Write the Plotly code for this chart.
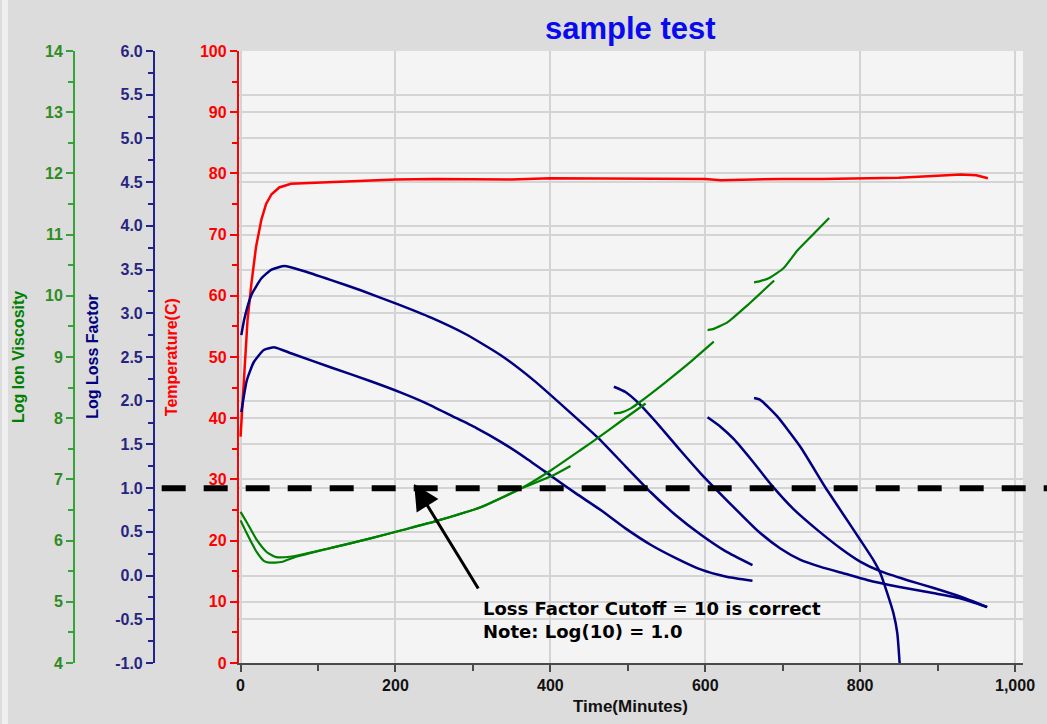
import plotly.graph_objects as go

# ---------------- data ----------------
# Temperature (C) vs time (minutes)
temp_t = [0, 3, 5, 9, 14, 20, 27, 33, 40, 50, 65, 100, 150, 200, 250, 300, 350, 400, 450, 500,
          550, 600, 620, 650, 700, 750, 800, 850, 900, 930, 950, 965]
temp_v = [37, 43, 47, 56, 62, 68, 72.5, 75, 76.6, 77.7, 78.3, 78.5, 78.8, 79.0, 79.1, 79.1, 79.0,
          79.2, 79.2, 79.1, 79.2, 79.1, 78.9, 79.0, 79.1, 79.1, 79.2, 79.3, 79.6, 79.8, 79.7, 79.2]

# Log Loss Factor runs
lf_a_t = [1, 5, 14, 27, 40, 57, 79, 117, 156, 201, 246, 291, 336, 379, 420, 461, 497, 530, 562,
          594, 626, 661]
lf_a_v = [2.75, 2.94, 3.21, 3.40, 3.50, 3.54, 3.49, 3.38, 3.26, 3.11, 2.95, 2.76, 2.52, 2.23,
          1.91, 1.58, 1.25, 0.95, 0.69, 0.47, 0.28, 0.12]
lf_b_t = [1, 8, 17, 30, 44, 66, 117, 169, 208, 240, 272, 304, 336, 369, 401, 433, 465, 497,
          530, 562, 594, 626, 661]
lf_b_v = [1.87, 2.23, 2.44, 2.58, 2.61, 2.54, 2.38, 2.22, 2.09, 1.97, 1.83, 1.69, 1.53, 1.34,
          1.14, 0.94, 0.75, 0.54, 0.35, 0.20, 0.07, -0.01, -0.06]
lf_c_t = [482, 497, 513, 543, 568, 594, 637, 668, 697, 723, 749, 781, 809, 851, 894, 929, 964]
lf_c_v = [2.16, 2.10, 1.98, 1.69, 1.43, 1.17, 0.78, 0.51, 0.31, 0.18, 0.10, 0.02, -0.05,
          -0.13, -0.20, -0.26, -0.36]
lf_d_t = [603, 620, 637, 659, 687, 714, 745, 775, 800, 826, 860, 894, 929, 964]
lf_d_v = [1.81, 1.70, 1.56, 1.33, 1.02, 0.76, 0.52, 0.31, 0.16, 0.05, -0.05, -0.14, -0.24, -0.36]
lf_e_t = [663, 671, 693, 723, 755, 779, 800, 817, 826, 835, 843, 848, 851]
lf_e_v = [2.03, 2.01, 1.82, 1.47, 1.01, 0.69, 0.41, 0.18, 0.03, -0.20, -0.43, -0.66, -1.0]

# Log Ion Viscosity runs
iv_1_t = [0, 8, 21, 34, 46, 66, 117, 169, 208, 250, 311, 362, 401, 439, 465, 491, 523]
iv_1_v = [6.47, 6.30, 6.01, 5.81, 5.73, 5.74, 5.88, 6.04, 6.17, 6.31, 6.55, 6.85, 7.15, 7.48,
          7.71, 7.95, 8.24]
iv_2_t = [0, 8, 21, 30, 37, 53, 70, 117, 169, 208, 250, 311, 362, 401, 426]
iv_2_v = [6.33, 6.12, 5.81, 5.67, 5.64, 5.65, 5.73, 5.88, 6.04, 6.17, 6.31, 6.55, 6.85, 7.05, 7.22]
iv_3_t = [482, 491, 504, 513, 547, 581, 611]
iv_3_v = [8.08, 8.09, 8.16, 8.24, 8.57, 8.92, 9.25]
iv_4_t = [603, 611, 629, 654, 689]
iv_4_v = [9.44, 9.46, 9.57, 9.84, 10.25]
iv_5_t = [663, 671, 684, 701, 719, 736, 760]
iv_5_v = [10.22, 10.24, 10.30, 10.45, 10.74, 10.96, 11.27]

cutoff_lf = 1.0

# tick labels
x_tickvals = [0, 200, 400, 600, 800, 1000]
lf_tickvals = [-1.0, -0.5, 0.0, 0.5, 1.0, 1.5, 2.0, 2.5, 3.0, 3.5, 4.0, 4.5, 5.0, 5.5, 6.0]
lf_ticktext = ["-1.0", "-0.5", "0.0", "0.5", "1.0", "1.5", "2.0", "2.5", "3.0", "3.5",
               "4.0", "4.5", "5.0", "5.5", "6.0"]

# ---------------- layout geometry ----------------
W, H = 1047, 724
ML, MR, MT, MB = 0, 24, 51, 61
PW = W - ML - MR
PH = H - MT - MB
PLOT_LEFT = 237


def px_x(px):
    return (px - ML) / PW


def px_y(py):
    return (H - MB - py) / PH


GREEN = "#008000"
GREEN_AX = "#36a336"
GREEN_TXT = "#2e8b1e"
NAVY = "#000080"
NAVY_AX = "#22228c"
NAVY_TXT = "#262680"
RED = "#ff0000"
GRID = "#d4d4d4"
FONT = "Liberation Sans, Arial, sans-serif"
NOTE_FONT = "DejaVu Sans, Liberation Sans, sans-serif"

fig = go.Figure()

fig.add_trace(go.Scatter(x=temp_t, y=temp_v, mode="lines", yaxis="y",
                         line=dict(color=RED, width=2.5), showlegend=False))

for tt, vv in [(lf_a_t, lf_a_v), (lf_b_t, lf_b_v), (lf_c_t, lf_c_v), (lf_d_t, lf_d_v), (lf_e_t, lf_e_v)]:
    fig.add_trace(go.Scatter(x=tt, y=vv, mode="lines", yaxis="y2",
                             line=dict(color=NAVY, width=2.5, shape="spline", smoothing=0.5),
                             showlegend=False))

for tt, vv in [(iv_1_t, iv_1_v), (iv_2_t, iv_2_v), (iv_3_t, iv_3_v), (iv_4_t, iv_4_v), (iv_5_t, iv_5_v)]:
    fig.add_trace(go.Scatter(x=tt, y=vv, mode="lines", yaxis="y3",
                             line=dict(color=GREEN, width=2.2, shape="spline", smoothing=0.5),
                             showlegend=False))

fig.update_layout(
    width=W, height=H,
    margin=dict(l=ML, r=MR, t=MT, b=MB),
    paper_bgcolor="#dcdcdc",
    plot_bgcolor="#f4f4f4",
    font=dict(family=FONT),
    showlegend=False,
    xaxis=dict(
        domain=[px_x(PLOT_LEFT), 1],
        range=[-2.6, 1010.3],
        tickvals=x_tickvals,
        tickformat=",",
        showgrid=True, gridcolor=GRID, gridwidth=1.5,
        zeroline=False,
        showline=True, linecolor="#4a4a4a", linewidth=2,
        ticks="outside", ticklen=7, tickwidth=1.5, tickcolor="#4a4a4a",
        minor=dict(ticks="outside", dtick=100, tick0=0, ticklen=6, tickwidth=1.5, tickcolor="#4a4a4a"),
        tickfont=dict(family=FONT, size=16, color="#111111", weight="bold"),
    ),
    yaxis=dict(
        range=[0, 100], dtick=10,
        showgrid=True, gridcolor=GRID, gridwidth=1.5, zeroline=False,
        showline=True, linecolor=RED, linewidth=1.5,
        ticks="outside", ticklen=7, tickwidth=1.5, tickcolor=RED,
        minor=dict(ticks="outside", dtick=5, ticklen=5, tickwidth=1.5, tickcolor=RED),
        tickfont=dict(family=FONT, size=16, color=RED, weight="bold"),
        anchor="x", side="left",
    ),
    yaxis2=dict(
        range=[-1, 6], tickvals=lf_tickvals, ticktext=lf_ticktext,
        overlaying="y", anchor="free", position=px_x(152), side="left",
        showgrid=True, gridcolor=GRID, gridwidth=1.5, zeroline=False,
        showline=True, linecolor=NAVY_AX, linewidth=1.5,
        ticks="outside", ticklen=7, tickwidth=1.5, tickcolor=NAVY_AX,
        minor=dict(ticks="outside", dtick=0.25, tick0=0, ticklen=5, tickwidth=1.5, tickcolor=NAVY_AX),
        tickfont=dict(family=FONT, size=16, color=NAVY_TXT, weight="bold"),
    ),
    yaxis3=dict(
        range=[4, 14], dtick=1,
        overlaying="y", anchor="free", position=px_x(72), side="left",
        showgrid=False, zeroline=False,
        showline=True, linecolor=GREEN_AX, linewidth=1.5,
        ticks="outside", ticklen=7, tickwidth=1.5, tickcolor=GREEN_AX,
        minor=dict(ticks="outside", dtick=0.5, ticklen=5, tickwidth=1.5, tickcolor=GREEN_AX),
        tickfont=dict(family=FONT, size=16, color=GREEN_TXT, weight="bold"),
    ),
)

# light strip on far left
fig.add_shape(type="rect", xref="paper", yref="paper",
              x0=px_x(0), x1=px_x(6), y0=px_y(H), y1=px_y(0),
              fillcolor="#efefef", line=dict(width=0), layer="below")

# dashed cutoff line at Log Loss Factor = 1.0 (extends beyond the plot area)
cut_y = (cutoff_lf - (-1)) / (6 - (-1))
fig.add_shape(type="line", xref="paper", yref="paper",
              x0=px_x(160), x1=px_x(1047), y0=cut_y, y1=cut_y,
              line=dict(color="black", width=6, dash="24px,18px"))

annotations = [
    dict(text="<b>sample test</b>", xref="x domain", yref="paper", x=0.5, y=px_y(29),
         xanchor="center", yanchor="middle", showarrow=False,
         font=dict(family=FONT, size=31, color="#0a0aee")),
    dict(text="<b>Time(Minutes)</b>", xref="x domain", yref="paper", x=0.5, y=px_y(706),
         xanchor="center", yanchor="middle", showarrow=False,
         font=dict(family=FONT, size=17, color="#111111")),
    dict(text="<b>Log Ion Viscosity</b>", xref="paper", yref="paper", x=px_x(16), y=0.5,
         textangle=-90, xanchor="center", yanchor="middle", showarrow=False,
         font=dict(family=FONT, size=16, color=GREEN)),
    dict(text="<b>Log Loss Factor</b>", xref="paper", yref="paper", x=px_x(90), y=0.5,
         textangle=-90, xanchor="center", yanchor="middle", showarrow=False,
         font=dict(family=FONT, size=16, color=NAVY)),
    dict(text="<b>Temperature(C)</b>", xref="paper", yref="paper", x=px_x(169.5), y=0.5,
         textangle=-90, xanchor="center", yanchor="middle", showarrow=False,
         font=dict(family=FONT, size=16, color=RED)),
    dict(text="", xref="paper", yref="paper", x=px_x(413), y=px_y(484),
         ax=65, ay=106, axref="pixel", ayref="pixel",
         showarrow=True, arrowhead=2, arrowsize=1.7, arrowwidth=3, arrowcolor="black",
         standoff=0),
    dict(text="<b>Loss Factor Cutoff = 10 is correct<br>Note: Log(10) = 1.0</b>",
         xref="paper", yref="paper", align="left",
         x=px_x(480), y=px_y(620), xanchor="left", yanchor="middle", showarrow=False,
         font=dict(family=NOTE_FONT, size=18, color="black")),
]
fig.update_layout(annotations=annotations)

fig.write_html("out.html",
               config={"displayModeBar": False},
               post_script="document.body.style.margin='0';document.body.style.padding='0';"
                           "document.body.style.overflow='hidden';")
